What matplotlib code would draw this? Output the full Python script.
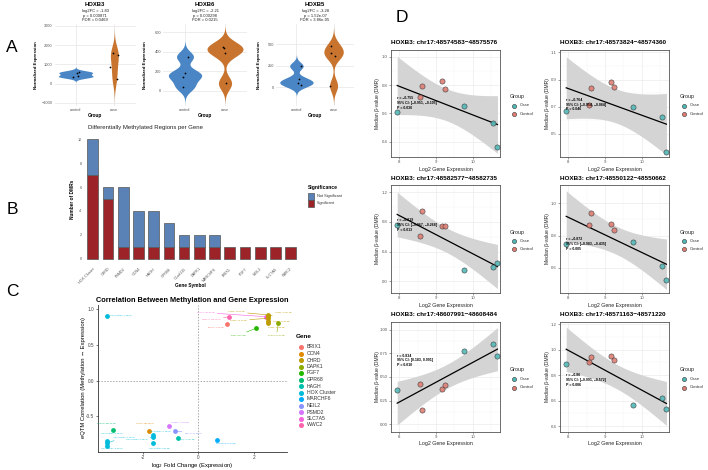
import math
import numpy as np
import matplotlib
matplotlib.use("Agg")
import matplotlib.pyplot as plt
from matplotlib.lines import Line2D
from matplotlib.patches import Patch

plt.rcParams['font.family'] = ['Liberation Sans', 'DejaVu Sans']
plt.rcParams['axes.unicode_minus'] = True

# ------------------------------------------------------------------ data
# Panel A: violin plots
a_genes = ["HOXB3", "HOXB6", "HOXB5"]
a_subtitles = ["log2FC = -1.83\np = 0.000871\nFDR = 0.0469",
               "log2FC = -2.21\np = 0.000298\nFDR = 0.0215",
               "log2FC = -3.28\np = 1.52e-07\nFDR = 3.86e-05"]
a_groups = ["control", "case"]
a_control = [[552, 604, 380, 344], [350, 179, 144, 41], [248, 93, 54, 27]]
a_case = [[1615, 1510, 865, 224], [454, 437, 386, 76], [484, 403, 368, 19]]
a_yticks = [[-1000, 0, 1000, 2000, 3000], [0, 200, 400, 600], [0, 250, 500]]

# Panel B: DMRs per gene
b_genes = ["HOX Cluster", "CHRD", "PSMD2", "CCN4", "HAGH", "GPR68", "C1orf115",
           "DAPK1", "MARCHF6", "BRIX1", "FGF7", "NEIL2", "SLC7A5", "WWC2"]
b_significant = [7, 5, 1, 1, 1, 1, 1, 1, 1, 1, 1, 1, 1, 1]
b_not_significant = [3, 1, 5, 3, 3, 2, 1, 1, 1, 0, 0, 0, 0, 0]

# Panel C: eQTM correlation
c_gene_levels = ["BRIX1", "CCN4", "CHRD", "DAPK1", "FGF7", "GPR68", "HAGH",
                 "HOX Cluster", "MARCHF6", "NEIL2", "PSMD2", "SLC7A5", "WWC2"]
c_gene = ["HOX Cluster", "BRIX1", "WWC2", "SLC7A5", "CHRD", "CHRD", "CHRD", "CHRD",
          "CHRD", "FGF7", "DAPK1", "GPR68", "HOX Cluster", "HOX Cluster", "HOX Cluster",
          "CCN4", "HOX Cluster", "HOX Cluster", "HOX Cluster", "PSMD2", "NEIL2", "HAGH",
          "MARCHF6"]
c_log2fc = [-3.31, 1.05, 1.12, 2.43, 2.53, 2.53, 2.53, 2.53, 2.53, 2.07, 2.89,
            -3.07, -3.31, -3.31, -3.31, -1.77, -1.65, -1.65, -1.65, -1.05, -0.84,
            -0.74, 0.66]
c_corr = [0.908, 0.792, 0.894, 0.894, 0.918, 0.90, 0.871, 0.83, 0.81, 0.731, 0.80,
          -0.689, -0.842, -0.874, -0.908, -0.703, -0.758, -0.79, -0.875, -0.633,
          -0.703, -0.796, -0.828]
c_dist_kb = ["-1.58", "-0.20", "-179.21", "90.41", "-46.46", "-24.67", "-21.46",
             "-10.68", "-14.68", "11.52", "20.15", "-281.54", "-0.92", "-1.14",
             "-0.33", "-182.48", "-1.13", "-1.08", "0.91", "-46.66", "-71.96",
             "-14.07", "60.60"]

# Panel D: scatter of methylation vs expression
d_expr = [7.94, 8.565, 8.625, 9.16, 9.24, 9.775, 10.57, 10.68]
d_group = ["Case", "Control", "Control", "Control", "Control", "Case", "Case", "Case"]
d_titles = ["HOXB3: chr17:48574583\u221248575576", "HOXB3: chr17:48573824\u221248574360",
            "HOXB3: chr17:48582577\u221248582735", "HOXB3: chr17:48550122\u221248550662",
            "HOXB3: chr17:48607991\u221248608484", "HOXB3: chr17:48571163\u221248571220"]
d_beta = [[0.606, 0.717, 0.79, 0.83, 0.775, 0.65, 0.53, 0.365],
          [0.668, 0.71, 0.838, 0.883, 0.845, 0.695, 0.625, 0.37],
          [0.756, 0.608, 0.944, 0.74, 0.745, 0.157, 0.188, 0.247],
          [0.748, 0.865, 0.939, 0.873, 0.835, 0.761, 0.611, 0.524],
          [0.366, 0.43, 0.155, 0.37, 0.412, 0.774, 0.852, 0.725],
          [0.886, 0.90, 0.939, 0.949, 0.918, 0.566, 0.617, 0.53]]
d_stats = ["r = \u22120.755\n95% CI: [\u22120.951, \u22120.105]\nP = 0.030",
           "r = \u22120.764\n95% CI: [\u22120.954, \u22120.084]\nP = 0.046",
           "r = \u22120.819\n95% CI: [\u22120.967, \u22120.268]\nP = 0.013",
           "r = \u22120.872\n95% CI: [\u22120.983, \u22120.435]\nP = 0.005",
           "r = 0.834\n95% CI: [0.183, 0.991]\nP = 0.010",
           "r = \u22120.86\n95% CI: [\u22120.991, \u22120.572]\nP = 0.006"]
d_yticks = [[0.4, 0.6, 0.8, 1.0], [0.5, 0.7, 0.9, 1.1], [0.0, 0.4, 0.8, 1.2],
            [0.6, 0.8, 1.0], [0.0, 0.25, 0.5, 0.75, 1.0], [0.4, 0.6, 0.8, 1.0, 1.2]]

# ------------------------------------------------------------------ layout helpers
W, H = 708, 470
fig = plt.figure(figsize=(W / 100, H / 100), dpi=100)


def ax_px(l, t, r, b):
    return fig.add_axes([l / W, 1 - b / H, (r - l) / W, (b - t) / H])


def ftext(x, y, s, **kw):
    return fig.text(x / W, 1 - y / H, s, **kw)


def hcl_hex(h, c=100.0, l=65.0):
    hr = math.radians(h)
    u, v = c * math.cos(hr), c * math.sin(hr)
    Xn, Yn, Zn = 95.047, 100.0, 108.883
    Y = Yn * ((l + 16) / 116) ** 3
    d = Xn + 15 * Yn + 3 * Zn
    un, vn = 4 * Xn / d, 9 * Yn / d
    up, vp = u / (13 * l) + un, v / (13 * l) + vn
    X = 9.0 * Y * up / (4 * vp)
    Z = -X / 3 - 5 * Y + 3 * Y / vp
    X, Y, Z = X / 100, Y / 100, Z / 100
    rgb = [3.240479 * X - 1.537150 * Y - 0.498535 * Z,
           -0.969256 * X + 1.875992 * Y + 0.041556 * Z,
           0.055648 * X - 0.204043 * Y + 1.057311 * Z]
    out = []
    for ch in rgb:
        ch = 12.92 * ch if ch <= 0.0031308 else 1.055 * ch ** (1 / 2.4) - 0.055
        out.append(min(max(ch, 0), 1))
    return tuple(out)


for lab, (x, y) in zip("ABCD", [(12, 47), (12, 210), (12, 292), (402, 18)]):
    ftext(x, y, lab, fontsize=12.5, ha='center', va='center')

# ------------------------------------------------------------------ Panel A
VBLUE, VORANGE = '#4A86C5', '#C8742F'
a_rects = [(54.5, 24, 135.6, 106), (163, 24, 247, 106), (276, 24, 354, 106)]
a_ylims = [(-1172, 3104), (-158, 686), (-217, 736)]
a_ylab_x = [36, 145, 259]


def nrd0(x):
    x = np.asarray(x, float)
    sd = x.std(ddof=1)
    q75, q25 = np.percentile(x, [75, 25])
    lo = min(sd, (q75 - q25) / 1.34)
    return 0.9 * lo * len(x) ** -0.2


rng = np.random.default_rng(7)
for i in range(3):
    l, t, r, b = a_rects[i]
    ax = ax_px(l, t, r, b)
    ax.set_xlim(-0.55, 1.55)
    ax.set_ylim(*a_ylims[i])
    data = [a_control[i], a_case[i]]
    curves = []
    for vals in data:
        bw = nrd0(vals)
        ys = np.linspace(min(vals) - 3 * bw, max(vals) + 3 * bw, 400)
        dens = np.mean([np.exp(-0.5 * ((ys - v) / bw) ** 2) for v in vals], axis=0) / (bw * np.sqrt(2 * np.pi))
        curves.append((ys, dens))
    dmax = max(c[1].max() for c in curves)
    for pos, (ys, dens), col in zip([0, 1], curves, [VBLUE, VORANGE]):
        w = 0.45 * dens / dmax
        ax.fill_betweenx(ys, pos - w, pos + w, color=col, lw=0, zorder=2)
    for pos, vals in zip([0, 1], data):
        jit = rng.uniform(-0.12, 0.12, len(vals))
        ax.scatter(pos + jit, vals, s=1.6, color='black', lw=0, zorder=3)
    ax.set_xticks([0, 1])
    ax.set_xticklabels(a_groups)
    ax.set_yticks(a_yticks[i])
    ax.grid(color='#E6E6E6', lw=0.5)
    ax.set_axisbelow(True)
    for s in ax.spines.values():
        s.set_visible(False)
    ax.tick_params(length=0, labelsize=2.8, colors='#555555', pad=1.5)
    cx = (l + r) / 2
    ftext(cx, 4, a_genes[i], fontsize=4.2, fontweight='bold', ha='center', va='center')
    ftext(cx, 15.5, a_subtitles[i], fontsize=3.0, ha='center', va='center',
          linespacing=1.05, color='#222222')
    ftext(cx, 116, "Group", fontsize=3.4, fontweight='bold', ha='center', va='center')
    ftext(a_ylab_x[i], 65, "Normalized Expression", fontsize=3.2, fontweight='bold',
          ha='center', va='center', rotation=90)

# ------------------------------------------------------------------ Panel B
BBLUE, BRED = '#5A82B6', '#9C2428'
axb = ax_px(83.6, 133.3, 299.8, 264.7)
xb = np.arange(len(b_genes))
sig = np.array(b_significant)
ns = np.array(b_not_significant)
axb.bar(xb, sig, width=0.7, color=BRED, edgecolor='#555555', lw=0.5)
m = ns > 0
axb.bar(xb[m], ns[m], bottom=sig[m], width=0.7, color=BBLUE, edgecolor='#555555', lw=0.5)
axb.set_xlim(-0.6, len(b_genes) - 0.4)
axb.set_ylim(-0.5, 10.5)
axb.set_yticks([0, 2, 4, 6, 8, 10])
axb.set_xticks(xb)
axb.set_xticklabels(b_genes, rotation=45, ha='right', rotation_mode='anchor')
for s in axb.spines.values():
    s.set_visible(False)
axb.tick_params(length=0, labelsize=2.7, colors='#555555', pad=1.5)
ftext(146, 127, "Differentially Methylated Regions per Gene", fontsize=4.3,
      ha='center', va='center', color='#222222')
ftext(190, 286, "Gene Symbol", fontsize=3.4, fontweight='bold', ha='center', va='center')
ftext(72, 199, "Number of DMRs", fontsize=3.4, fontweight='bold', ha='center',
      va='center', rotation=90)
ftext(308, 188, "Significance", fontsize=3.6, fontweight='bold', ha='left', va='center')
for k, (col, lab) in enumerate([(BBLUE, "Not Significant"), (BRED, "Significant")]):
    yk = 196.5 + k * 7
    fig.patches.append(plt.Rectangle((308 / W, 1 - (yk + 3.2) / H), 6 / W, 6.4 / H,
                                     transform=fig.transFigure, facecolor=col,
                                     edgecolor='#555555', lw=0.5))
    ftext(317, yk, lab, fontsize=2.8, ha='left', va='center', color='#333333')

# ------------------------------------------------------------------ Panel C
c_colors = {g: hcl_hex(15 + 360 * k / 13) for k, g in enumerate(c_gene_levels)}
c_label_offsets_px = [(14, 0), (-12, 4), (-18, 3), (-60, -4), (-32, -3), (15, -4),
                      (-30, 2), (13, 0), (8, 5), (-17, 7), (-2, 12), (-7, -7),
                      (5, -8), (17, -6), (5, 3), (-4, -8), (7, -4), (-16, 2), (7, 5),
                      (11, -4), (18, 2), (9, 2), (9, 3)]
axc = ax_px(98, 305, 287, 452)
axc.set_xlim(-3.62, 3.20)
axc.set_ylim(-0.996, 1.057)
axc.axhline(0, color='#AAAAAA', ls=(0, (1.5, 1.5)), lw=0.7, zorder=1)
axc.axvline(0, color='#AAAAAA', ls=(0, (1.5, 1.5)), lw=0.7, zorder=1)
for g, x, y, dk, (ox, oy) in zip(c_gene, c_log2fc, c_corr, c_dist_kb, c_label_offsets_px):
    col = c_colors[g]
    axc.scatter([x], [y], s=12, color=col, lw=0, zorder=3)
    far = abs(ox) > 12 or abs(oy) > 9
    axc.annotate(f"{g} ({dk} kb)", (x, y), xytext=(ox * 0.72, -oy * 0.72),
                 textcoords='offset points', fontsize=1.5, color=col, ha='center',
                 va='center', zorder=4,
                 arrowprops=dict(arrowstyle='-', color=col, lw=0.4,
                                 shrinkA=0, shrinkB=1) if far else None)
axc.set_xticks([-2, 0, 2])
axc.set_yticks([-0.5, 0.0, 0.5, 1.0])
axc.set_yticklabels(["-0.5", "0.0", "0.5", "1.0"])
axc.set_xticklabels(["-2", "0", "2"])
for s in ['top', 'right']:
    axc.spines[s].set_visible(False)
for s in ['left', 'bottom']:
    axc.spines[s].set_linewidth(0.6)
    axc.spines[s].set_color('#333333')
axc.tick_params(length=1.5, width=0.5, labelsize=3.4, colors='#444444', pad=1)
ftext(192, 300, "Correlation Between Methylation and Gene Expression", fontsize=5.3,
      fontweight='bold', ha='center', va='center')
ftext(192, 465, r"log$_2$ Fold Change (Expression)", fontsize=4.2, ha='center', va='center')
ftext(83, 378, "eQTM Correlation (Methylation \u2194 Expression)", fontsize=4.2,
      ha='center', va='center', rotation=90)
ftext(296, 337, "Gene", fontsize=4.6, fontweight='bold', ha='left', va='center')
for k, g in enumerate(c_gene_levels):
    yk = 347 + k * 6.5
    fig.lines.append(Line2D([301 / W], [1 - yk / H], transform=fig.transFigure,
                            marker='o', markersize=2.6, color=c_colors[g], lw=0))
    ftext(307, yk, g, fontsize=3.7, ha='left', va='center', color='#333333')

# ------------------------------------------------------------------ Panel D
CASE, CONTROL = '#52B8B6', '#DF7E74'
d_cols_px = [(391, 500), (560, 669)]
d_rows_px = [(50, 157), (185, 293), (322, 432)]
d_ylims = [(0.292, 1.047), (0.33, 1.117), (-0.156, 1.298), (0.443, 1.114),
           (-0.081, 1.08), (0.353, 1.216)]
d_text_y = [0.505, 0.49, 0.63, 0.45, 0.65, 0.47]
xs = np.array(d_expr)
for k in range(6):
    row, colm = divmod(k, 2)
    l, r = d_cols_px[colm]
    t, b = d_rows_px[row]
    ax = ax_px(l, t, r, b)
    ys = np.array(d_beta[k])
    # regression + 95% CI
    n = len(xs)
    slope, icpt = np.polyfit(xs, ys, 1)
    xx = np.linspace(xs.min(), xs.max(), 80)
    fit = icpt + slope * xx
    resid = ys - (icpt + slope * xs)
    s_err = np.sqrt(np.sum(resid ** 2) / (n - 2))
    se = s_err * np.sqrt(1 / n + (xx - xs.mean()) ** 2 / np.sum((xs - xs.mean()) ** 2))
    tval = 2.446912
    ax.fill_between(xx, fit - tval * se, fit + tval * se, color='#D4D4D4', lw=0, zorder=2)
    ax.plot(xx, fit, color='black', lw=0.9, zorder=3)
    for g, c in [("Case", CASE), ("Control", CONTROL)]:
        mk = np.array([gg == g for gg in d_group])
        ax.scatter(xs[mk], ys[mk], s=14, color=c, edgecolor='#333333', lw=0.4,
                   alpha=0.9, zorder=4)
    ax.set_xlim(7.77, 10.75)
    ax.set_ylim(*d_ylims[k])
    ax.set_xticks([8, 9, 10])
    ax.set_xticks([8.5, 9.5, 10.5], minor=True)
    ax.set_yticks(d_yticks[k])
    yt = d_yticks[k]
    mids = [(a + c) / 2 for a, c in zip(yt[:-1], yt[1:])]
    ax.set_yticks(mids, minor=True)
    if k == 4:
        ax.set_yticklabels([f"{v:.2f}" for v in yt])
    else:
        ax.set_yticklabels([f"{v:.1f}" for v in yt])
    ax.grid(which='major', color='#EBEBEB', lw=0.5)
    ax.grid(which='minor', color='#F3F3F3', lw=0.3)
    ax.set_axisbelow(True)
    for s in ax.spines.values():
        s.set_color('#555555')
        s.set_linewidth(0.6)
    ax.tick_params(which='major', length=1.5, width=0.4, labelsize=3.1,
                   colors='#555555', pad=1)
    ax.tick_params(which='minor', length=0)
    ax.text(xs.min(), d_yl := d_ylims[k][0] + d_text_y[k] * (d_ylims[k][1] - d_ylims[k][0]),
            d_stats[k], fontsize=2.5, fontweight='bold', ha='left', va='center',
            linespacing=1.3, zorder=5)
    ftext(l, t - 7, d_titles[k], fontsize=4.6, fontweight='bold', ha='left', va='center')
    ftext((l + r) / 2, b + 12, "Log2 Gene Expression", fontsize=3.8, ha='center',
          va='center', color='#222222')
    ftext(l - 13, (t + b) / 2, "Median \u03b2-value (DMR)", fontsize=3.6, ha='center',
          va='center', rotation=90, color='#222222')
    # legend
    lx = r + 10 if colm == 0 else r + 11
    ly = (t + b) / 2 - 7
    ftext(lx, ly, "Group", fontsize=3.9, ha='left', va='center', color='#222222')
    for j, (g, c) in enumerate([("Case", CASE), ("Control", CONTROL)]):
        yk = ly + 9 + j * 8.5
        fig.lines.append(Line2D([(lx + 4) / W], [1 - yk / H], transform=fig.transFigure,
                                marker='o', markersize=3.0, markerfacecolor=c,
                                markeredgecolor='#333333', markeredgewidth=0.4, lw=0))
        ftext(lx + 10, yk, g, fontsize=3.2, ha='left', va='center', color='#333333')

fig.savefig("out.png", dpi=100)
